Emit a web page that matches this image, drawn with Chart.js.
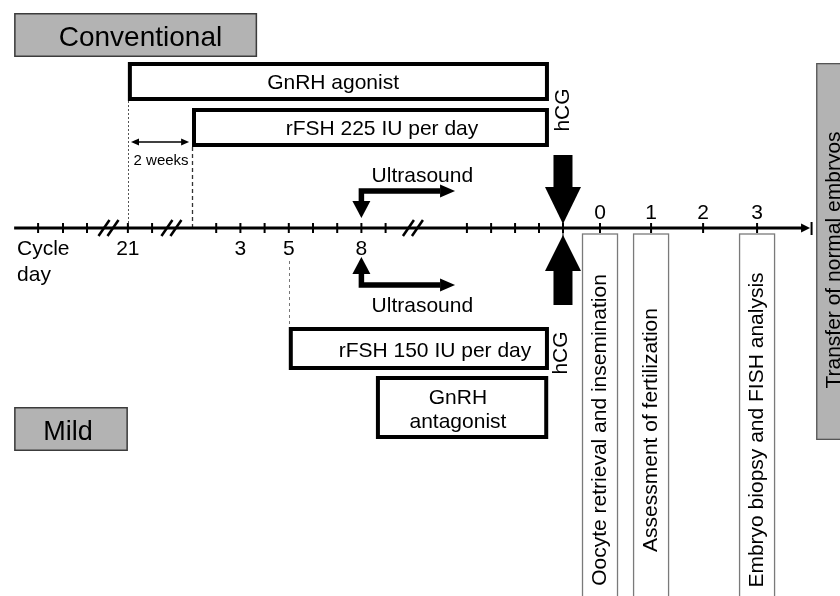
<!DOCTYPE html>
<html>
<head>
<meta charset="utf-8">
<script src="https://cdn.jsdelivr.net/npm/chart.js@4.4.1/dist/chart.umd.min.js"></script>
<style>
html, body { margin: 0; padding: 0; background: #ffffff; }
#wrap { width: 840px; height: 596px; position: relative; }
</style>
</head>
<body>
<div id="wrap"><canvas id="c"></canvas></div>
<script>
// ================= DATA =================
// x: position on the schematic timeline, in stimulation-day units (day 1 = first rFSH day of the conventional protocol)
// y: rows of the schematic, the cycle-day timeline is row 0 (positive = above)
const axisStart = -6.35;
const axisEnd = 26.54;
const tickPositions = [-5.36, -4.33, -3.34, -1.65, -0.65, 2, 3, 4, 5, 6, 7, 8, 9, 12.36, 13.36, 14.35, 15.34, 16.33, 17.86, 19.97, 22.12, 24.35];
const breakPositions = [-2.45, 0.15, 10.13];

const cycleDayLabels = ['21', '3', '5', '8'];
const cycleDayPositions = [-1.65, 3, 5, 8];
const postHcgLabels = ['0', '1', '2', '3'];
const postHcgPositions = [17.86, 19.97, 22.12, 24.35];
const hcgDay = 16.33;
const ultrasoundDay = 8;

const protocolNames = ['Conventional', 'Mild'];
const protocolX = [[-6.35, 3.69], [-6.35, -1.65]];
const protocolY = [[21.5, 17.1], [-17.9, -22.3]];
const protocolTextX = [-1.13, -4.12];
const protocolBaseline = [18.25, -21.15];

const treatmentNames = [['GnRH agonist'], ['rFSH 225 IU per day'], ['rFSH 150 IU per day'], ['GnRH', 'antagonist']];
const treatmentX = [[-1.65, 15.75], [1, 15.75], [5, 15.75], [8.6, 15.72]];
const treatmentY = [[16.6, 12.7], [12.0, 8.1], [-9.9, -14.2], [-14.8, -21.1]];
const treatmentTextX = [6.83, 8.85, 11.04, 11.99];
const treatmentBaselines = [[13.9], [9.35], [-12.87], [-17.6, -20.0]];

// ultrasound arrows: [arm row, arrow-head base row, arrow-head tip row]
const ultrasoundRows = [[3.7, 2.7, 1.0], [-5.7, -4.6, -2.9]];
const ultrasoundArmEnd = 11.87;
const ultrasoundTextX = 10.52;
const ultrasoundBaselines = [4.6, -8.4];

const eventNames = ['Oocyte retrieval and insemination', 'Assessment of fertilization', 'Embryo biopsy and FISH analysis'];
const eventDays = [17.86, 19.97, 24.35];
const eventTop = -0.6;
const eventTextY = -20.2;

const transferName = 'Transfer of normal embryos';
const transferX = [26.79, 28.6];
const transferY = [16.5, -21.2];
const transferTextX = 27.52;
const transferTextY = -3.2;

const hcgTextY = [11.8, -12.5];
const hcgTextX = [16.33, 16.25];

const twoWeeksRange = [-1.52, 0.88];
const twoWeeksText = '2 weeks';

// ================= RENDERING =================
const FONT = '"Liberation Sans", Arial, Helvetica, sans-serif';

const diagramPlugin = {
  id: 'diagram',
  beforeDatasetsDraw(chart) {
    const ctx = chart.ctx;
    const X = v => chart.scales.x.getPixelForValue(v);
    const Y = v => chart.scales.y.getPixelForValue(v);
    ctx.save();
    const guides = [
      { x: treatmentX[0][0], y0: treatmentY[0][1], y1: 0, dash: [2, 2], color: '#555', w: 1 },
      { x: treatmentX[1][0], y0: treatmentY[1][1], y1: 0, dash: [4, 3], color: '#333', w: 1.3 },
      { x: treatmentX[2][0], y0: -3.3, y1: treatmentY[2][0], dash: [3, 3], color: '#777', w: 1 }
    ];
    guides.forEach(g => {
      ctx.beginPath();
      ctx.setLineDash(g.dash);
      ctx.strokeStyle = g.color;
      ctx.lineWidth = g.w;
      ctx.moveTo(Math.round(X(g.x)) + 0.5, Y(g.y0));
      ctx.lineTo(Math.round(X(g.x)) + 0.5, Y(g.y1));
      ctx.stroke();
    });
    ctx.setLineDash([]);
    ctx.restore();
  },
  afterDatasetsDraw(chart) {
    const ctx = chart.ctx;
    const X = v => chart.scales.x.getPixelForValue(v);
    const Y = v => chart.scales.y.getPixelForValue(v);
    ctx.save();

    const text = (s, x, y, size, align, baseline) => {
      ctx.font = size + 'px ' + FONT;
      ctx.fillStyle = '#000';
      ctx.textAlign = align || 'center';
      ctx.textBaseline = baseline || 'alphabetic';
      ctx.fillText(s, x, y);
    };
    const vtext = (s, x, y, size) => {
      ctx.save();
      ctx.translate(x, y);
      ctx.rotate(-Math.PI / 2);
      ctx.font = size + 'px ' + FONT;
      ctx.fillStyle = '#000';
      ctx.textAlign = 'center';
      ctx.textBaseline = 'middle';
      ctx.fillText(s, 0, 0);
      ctx.restore();
    };
    const box = (x0, x1, yt, yb, fill, stroke, lw) => {
      const l = X(x0), r = X(x1), t = Y(yt), b = Y(yb);
      if (fill) { ctx.fillStyle = fill; ctx.fillRect(l, t, r - l, b - t); }
      ctx.strokeStyle = stroke; ctx.lineWidth = lw;
      ctx.strokeRect(l + lw / 2, t + lw / 2, r - l - lw, b - t - lw);
    };
    const tri = (pts) => {
      ctx.beginPath();
      ctx.moveTo(pts[0][0], pts[0][1]);
      for (let i = 1; i < pts.length; i++) ctx.lineTo(pts[i][0], pts[i][1]);
      ctx.closePath();
      ctx.fillStyle = '#000';
      ctx.fill();
    };

    // axis breaks
    breakPositions.forEach(b => {
      const cx = X(b), cy = Y(0);
      [-4.5, 4.5].forEach(o => {
        ctx.beginPath();
        ctx.strokeStyle = '#000';
        ctx.lineWidth = 2.5;
        ctx.moveTo(cx + o - 5.5, cy + 8);
        ctx.lineTo(cx + o + 5.5, cy - 8);
        ctx.stroke();
      });
    });
    // axis end arrow + bar
    {
      const ex = X(axisEnd), cy = Y(0);
      tri([[ex - 9, cy - 4.5], [ex, cy], [ex - 9, cy + 4.5]]);
      ctx.beginPath(); ctx.lineWidth = 2; ctx.strokeStyle = '#000';
      ctx.moveTo(ex + 1.5, cy - 6); ctx.lineTo(ex + 1.5, cy + 7); ctx.stroke();
    }

    // protocol label boxes
    protocolNames.forEach((n, i) => {
      box(protocolX[i][0], protocolX[i][1], protocolY[i][0], protocolY[i][1], '#b3b3b3', '#3c3c3c', 1.5);
      text(n, X(protocolTextX[i]), Y(protocolBaseline[i]), i === 0 ? 28 : 27);
    });

    // treatment boxes
    treatmentNames.forEach((lines, i) => {
      box(treatmentX[i][0], treatmentX[i][1], treatmentY[i][0], treatmentY[i][1], '#ffffff', '#000', 4);
      lines.forEach((ln, j) => text(ln, X(treatmentTextX[i]), Y(treatmentBaselines[i][j]), 21));
    });

    // 2 weeks double arrow
    {
      const y = Y(8.6), l = X(twoWeeksRange[0]), r = X(twoWeeksRange[1]);
      ctx.beginPath(); ctx.strokeStyle = '#000'; ctx.lineWidth = 1.6;
      ctx.moveTo(l + 4, y); ctx.lineTo(r - 4, y); ctx.stroke();
      tri([[l, y], [l + 8, y - 3.5], [l + 8, y + 3.5]]);
      tri([[r, y], [r - 8, y - 3.5], [r - 8, y + 3.5]]);
      text(twoWeeksText, (l + r) / 2 + 1, Y(6.3), 15);
    }

    // ultrasound arrows (upper points down, lower points up)
    ultrasoundRows.forEach((rows, i) => {
      const x = X(ultrasoundDay);
      const yl = Y(rows[0]), yb = Y(rows[1]), yt = Y(rows[2]);
      const tx = X(ultrasoundArmEnd), hx = tx - 15;
      ctx.beginPath(); ctx.strokeStyle = '#000'; ctx.lineWidth = 5.5; ctx.lineJoin = 'miter'; ctx.lineCap = 'butt';
      ctx.moveTo(hx, yl); ctx.lineTo(x, yl); ctx.lineTo(x, yb); ctx.stroke();
      tri([[x - 9, yb], [x + 9, yb], [x, yt]]);
      tri([[hx, yl - 6.5], [tx, yl], [hx, yl + 6.5]]);
      text('Ultrasound', X(ultrasoundTextX), Y(ultrasoundBaselines[i]), 21);
    });

    // hCG big arrows
    {
      const x = X(hcgDay);
      ctx.fillStyle = '#000';
      ctx.fillRect(x - 9.5, Y(7.3), 19, Y(4.0) - Y(7.3));
      tri([[x - 18, Y(4.1)], [x + 18, Y(4.1)], [x, Y(0.4)]]);
      tri([[x - 18, Y(-4.3)], [x + 18, Y(-4.3)], [x, Y(-0.7)]]);
      ctx.fillRect(x - 9.5, Y(-4.2), 19, Y(-7.7) - Y(-4.2));
      ctx.beginPath(); ctx.lineWidth = 1; ctx.strokeStyle = '#000';
      ctx.moveTo(x, Y(0.6)); ctx.lineTo(x, Y(-0.9)); ctx.stroke();
      hcgTextY.forEach((ty, i) => vtext('hCG', X(hcgTextX[i]), Y(ty), 21));
    }

    // axis day labels
    cycleDayLabels.forEach((l, i) => text(l, X(cycleDayPositions[i]), Y(-2.7), 21));
    postHcgLabels.forEach((l, i) => text(l, X(postHcgPositions[i]), Y(0.9), 21));
    text('Cycle', X(-6.23), Y(-2.7), 21, 'left');
    text('day', X(-6.23), Y(-5.3), 21, 'left');

    // event boxes (vertical)
    eventNames.forEach((n, i) => {
      const c = X(eventDays[i]);
      const l = c - 17.5, w = 35;
      ctx.fillStyle = '#fff';
      ctx.fillRect(l, Y(eventTop), w, chart.height - Y(eventTop) + 10);
      ctx.strokeStyle = '#7a7a7a'; ctx.lineWidth = 1.3;
      ctx.strokeRect(l, Y(eventTop), w, chart.height - Y(eventTop) + 10);
      vtext(n, c, Y(eventTextY), 21);
    });

    // transfer box
    box(transferX[0], transferX[1], transferY[0], transferY[1], '#b3b3b3', '#555', 1.3);
    vtext(transferName, X(transferTextX), Y(transferTextY), 21);

    ctx.restore();
  }
};

const chart = new Chart(document.getElementById('c'), {
  type: 'scatter',
  data: {
    datasets: [
      {
        type: 'line',
        data: [{ x: axisStart, y: 0 }, { x: axisEnd - 0.3, y: 0 }],
        borderColor: '#000', borderWidth: 3, pointRadius: 0, showLine: true, fill: false
      },
      {
        data: tickPositions.map(x => ({ x, y: 0 })),
        pointStyle: 'line', rotation: 90, pointRadius: 5, pointHoverRadius: 5,
        borderColor: '#000', backgroundColor: '#000', borderWidth: 2
      }
    ]
  },
  options: {
    responsive: true,
    maintainAspectRatio: false,
    animation: false,
    events: [],
    layout: { padding: 0, autoPadding: false },
    plugins: { legend: { display: false }, tooltip: { enabled: false } },
    scales: {
      x: { type: 'linear', display: false, min: -6.934, max: 27.777 },
      y: { type: 'linear', display: false, min: -36.8, max: 22.8 }
    }
  },
  plugins: [diagramPlugin]
});
</script>
</body>
</html>
